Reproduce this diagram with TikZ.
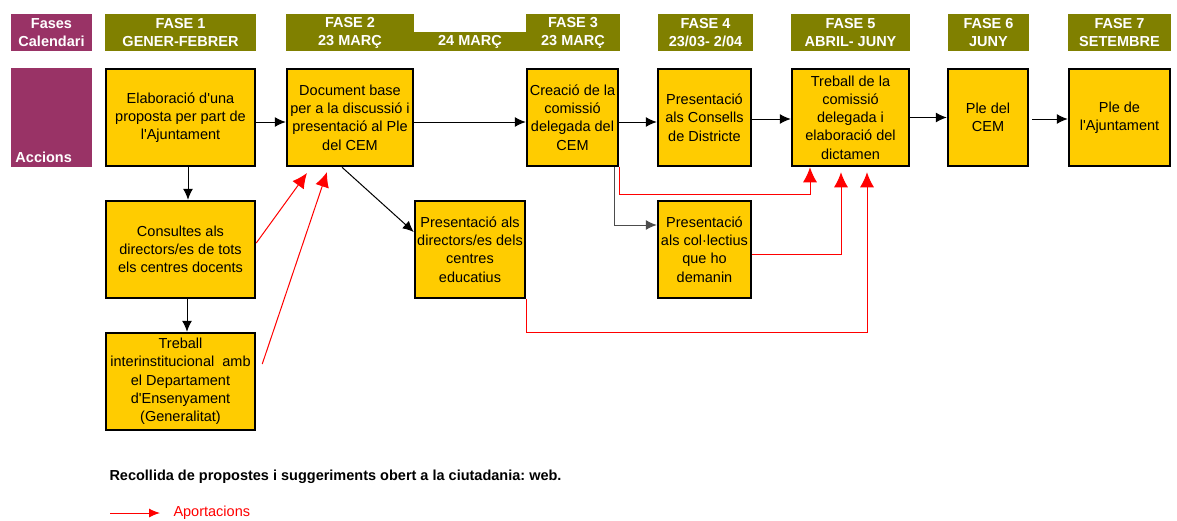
\documentclass[tikz,border=0pt]{standalone}
\usepackage{fontspec}
\setmainfont{Liberation Sans}
\usepackage{tikz}
\usetikzlibrary{arrows.meta,positioning}

\definecolor{caixa}{HTML}{FFCC00}
\definecolor{oliva}{HTML}{808000}
\definecolor{morat}{HTML}{993366}
\frenchspacing

\begin{document}
\begin{tikzpicture}[x=1pt,y=-1pt,>={Latex[length=11pt,width=10pt]},line width=1pt]
                \tikzstyle{every node}=[font=\fontsize{14.5}{18.3}\selectfont]
                \tikzstyle{accio}=[draw=black,line width=2.5pt,fill=caixa,align=center,inner sep=0pt,minimum height=97pt]
                \tikzstyle{fase}=[fill=oliva,text=white,font=\fontsize{14.5}{18}\selectfont\bfseries,align=center,inner sep=0pt,minimum height=37pt]
                \tikzstyle{flux}=[->,draw=black]
                \tikzstyle{aport}=[draw=red,-{Latex[length=15pt,width=14pt]}]

                \useasboundingbox (0,0) rectangle (1177,520);

                \node[fase,fill=morat,minimum width=81pt] (calendari) at (51.5,32.5) {Fases\\Calendari};
                \node[fase,minimum width=151pt] (fase1) at (180.5,32.5) {FASE 1\\GENER-FEBRER};
                \node[fase,minimum width=128pt] (fase2) at (350,32.5) {FASE 2\\23 MARÇ};
                \node[fase,minimum width=114pt,minimum height=19pt] (marc24) at (470,41.5) {24 MARÇ};
                \node[fase,minimum width=94pt] (fase3) at (573,32.5) {FASE 3\\23 MARÇ};
                \node[fase,minimum width=95pt] (fase4) at (705.5,32.5) {FASE 4\\23/03- 2/04};
                \node[fase,minimum width=119pt] (fase5) at (850.5,32.5) {FASE 5\\ABRIL- JUNY};
                \node[fase,minimum width=81pt] (fase6) at (988.5,32.5) {FASE 6\\JUNY};
                \node[fase,minimum width=103pt] (fase7) at (1119.5,32.5) {FASE 7\\SETEMBRE};

                \node[fill=morat,minimum width=81pt,minimum height=99pt,inner sep=0pt] (accions) at (51.5,117.5) {};
                \node[anchor=base west,inner sep=0pt,text=white,font=\fontsize{14.5}{18}\selectfont\bfseries] (accions-lbl) at (15,162) {Accions};

                \node[accio,minimum width=149pt] (elab) at (180.5,117.5) {Elaboració d\textquotesingle una\\proposta per part de\\l\textquotesingle Ajuntament};
                \node[accio,minimum width=126pt] (docbase) at (350,117.5) {Document base\\per a la discussió i\\presentació al Ple\\del CEM};
                \node[accio,minimum width=91pt] (creacio) at (572.5,117.5) {Creació de la\\comissió\\delegada del\\CEM};
                \node[accio,minimum width=93pt] (consells) at (704.5,117.5) {Presentació\\als Consells\\de Districte};
                \node[accio,minimum width=117pt] (treball) at (850.5,117.5) {Treball de la\\comissió\\delegada i\\elaboració del\\dictamen};
                \node[accio,minimum width=80pt] (plecem) at (988,117.5) {Ple del\\CEM};
                \node[accio,minimum width=101pt] (pleajunt) at (1119.5,117.5) {Ple de\\l\textquotesingle Ajuntament};
                \node[accio,minimum width=149pt] (consultes) at (180.5,249.5) {Consultes als\\directors/es de tots\\els centres docents};
                \node[accio,minimum width=110pt] (directors) at (470,249.5) {Presentació als\\directors/es dels\\centres\\educatius};
                \node[accio,minimum width=93pt] (collectius) at (704.5,249.5) {Presentació\\als col·lectius\\que ho\\demanin};
                \node[accio,minimum width=149pt] (interinst) at (180.5,381.5) {Treball\\interinstitucional~ amb\\el Departament\\d\textquotesingle Ensenyament\\(Generalitat)};

                \coordinate (tipA) at (307,173);
                \coordinate (tipB) at (327,172);

                \draw[flux] ([yshift=-4.5pt]elab.east) -- ([yshift=-4.5pt]docbase.west);
                \draw[flux] ([yshift=-4.5pt]docbase.east) -- ([yshift=-4.5pt]creacio.west);
                \draw[flux] ([yshift=-4.5pt]creacio.east) -- ([yshift=-4.5pt]consells.west);
                \draw[flux] ([yshift=-1.5pt]consells.east) -- ([yshift=-1.5pt]treball.west);
                \draw[flux] (treball.east) -- (plecem.west);
                \draw[flux,shorten <=3pt] ([yshift=-1.5pt]plecem.east) -- ([yshift=-1.5pt]pleajunt.west);
                \draw[flux] ([xshift=7.5pt]elab.south) -- ([xshift=7.5pt]consultes.north);
                \draw[flux] ([xshift=6.5pt]consultes.south) -- ([xshift=6.5pt]interinst.north);
                \draw[flux] ([xshift=-8pt]docbase.south) -- ([yshift=17.5pt]directors.west);
                \draw[flux,draw=black!70] ([xshift=-4.5pt]creacio.south east) |- ([yshift=24.5pt]collectius.west);

                \draw[aport] ([yshift=6.5pt]consultes.east) -- (tipA);
                \draw[aport] ([shift={(6pt,17.5pt)}]interinst.east) -- (tipB);
                \draw[aport] (creacio.south east) |- ([xshift=-40.5pt,yshift=-27pt]treball.south) -- ([xshift=-40.5pt]treball.south);
                \draw[aport] ([yshift=-4.5pt]collectius.east) -| ([xshift=-9.5pt,yshift=-5pt]treball.south);
                \draw[aport] (directors.south east) -- ++(0,33) -| ([xshift=16.5pt,yshift=-5pt]treball.south);

                \node[anchor=west,inner sep=0pt,font=\fontsize{14.5}{18}\selectfont\bfseries] (recollida) at (109,477) {Recollida de propostes i suggeriments obert a la ciutadania: web.};
                \coordinate (leg) at (110,513);
                \node[anchor=west,inner sep=5pt,text=red] (aportacions) at (168,513) {Aportacions};
                \draw[draw=red,-{Latex[length=11pt,width=9pt]},shorten >=8pt] (leg) -- (aportacions.west);
\end{tikzpicture}
\end{document}
